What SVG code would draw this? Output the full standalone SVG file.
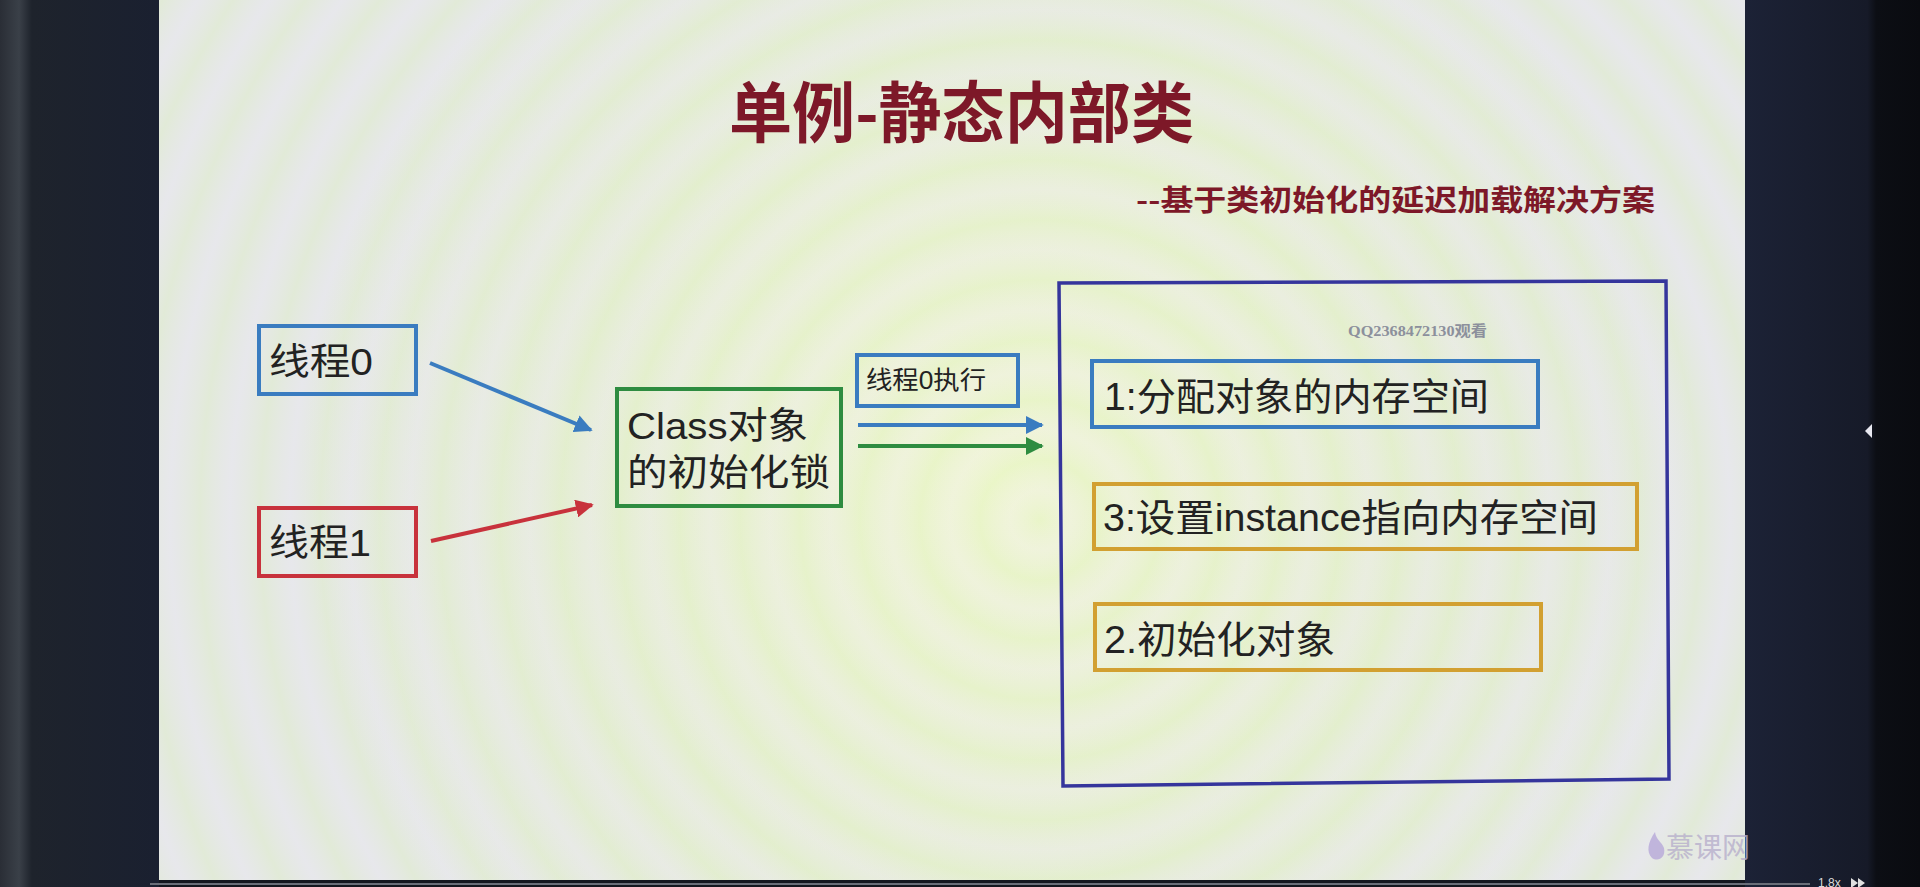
<svg xmlns="http://www.w3.org/2000/svg" width="1920" height="887" viewBox="0 0 1920 887">
<defs>
<style>
.cn{font-family:"Liberation Sans","Noto Sans CJK SC",sans-serif;fill:#222;}
.title{font-family:"Noto Sans CJK SC","Liberation Sans",sans-serif;font-weight:bold;fill:#7d1828;}
.box{fill:none;stroke-width:4;}
.blue{stroke:#3a7cc0;}
.red{stroke:#c8323c;}
.green{stroke:#2e8c40;}
.gold{stroke:#d2a031;}
.navy{stroke:#35359c;stroke-width:3.5;fill:none;}
.conn{stroke-width:4;fill:none;}
</style>
<marker id="ahBlue" viewBox="0 0 10 10" refX="9" refY="5" markerWidth="4.5" markerHeight="4.5" orient="auto" markerUnits="strokeWidth"><path d="M0,0 L10,5 L0,10 z" fill="#3a7cc0"/></marker>
<marker id="ahRed" viewBox="0 0 10 10" refX="9" refY="5" markerWidth="4.5" markerHeight="4.5" orient="auto" markerUnits="strokeWidth"><path d="M0,0 L10,5 L0,10 z" fill="#c8323c"/></marker>
<marker id="ahGreen" viewBox="0 0 10 10" refX="9" refY="5" markerWidth="4.5" markerHeight="4.5" orient="auto" markerUnits="strokeWidth"><path d="M0,0 L10,5 L0,10 z" fill="#2e8c40"/></marker>
<radialGradient id="moire" cx="1040" cy="520" r="60" gradientUnits="userSpaceOnUse" spreadMethod="repeat">
<stop offset="0" stop-color="#d6f0a8" stop-opacity="0.7"/>
<stop offset="0.5" stop-color="#ece6f2" stop-opacity="0.5"/>
<stop offset="1" stop-color="#d6f0a8" stop-opacity="0.7"/>
</radialGradient>
<radialGradient id="glow" cx="1000" cy="480" r="700" gradientUnits="userSpaceOnUse">
<stop offset="0" stop-color="#f2f8d4"/>
<stop offset="0.6" stop-color="#e8eedc"/>
<stop offset="1" stop-color="#e6e8ea"/>
</radialGradient>
<linearGradient id="leftDark" x1="0" y1="0" x2="1" y2="0">
<stop offset="0" stop-color="#2a2e36"/>
<stop offset="0.12" stop-color="#3a4048"/>
<stop offset="0.2" stop-color="#1e232c"/>
<stop offset="1" stop-color="#1a2030"/>
</linearGradient>
<linearGradient id="rightDark" x1="0" y1="0" x2="1" y2="0">
<stop offset="0" stop-color="#1c2236"/>
<stop offset="0.7" stop-color="#161a28"/>
<stop offset="0.75" stop-color="#0c0e14"/>
<stop offset="1" stop-color="#0a0b10"/>
</linearGradient>
</defs>

<!-- screen surroundings -->
<rect x="0" y="0" width="1920" height="887" fill="#14171f"/>
<rect x="0" y="0" width="159" height="887" fill="url(#leftDark)"/>
<rect x="1745" y="0" width="175" height="887" fill="url(#rightDark)"/>

<!-- slide -->
<g id="slide">
<rect x="159" y="0" width="1586" height="880" fill="url(#glow)"/>
<rect x="159" y="0" width="1586" height="880" fill="url(#moire)" opacity="0.4"/>
</g>

<!-- titles -->
<g id="title">
<text class="title" x="729" y="137" font-size="66" textLength="465" lengthAdjust="spacingAndGlyphs">单例-静态内部类</text>
</g>
<g id="subtitle">
<text class="title" x="1136" y="211" font-size="29" textLength="519" lengthAdjust="spacingAndGlyphs">--基于类初始化的延迟加载解决方案</text>
</g>

<!-- connectors -->
<g id="connectors">
<line class="conn blue" x1="430" y1="363" x2="591" y2="430" marker-end="url(#ahBlue)"/>
<line class="conn red" x1="431" y1="541" x2="592" y2="505" marker-end="url(#ahRed)"/>
<line class="conn blue" x1="858" y1="425" x2="1042" y2="425" marker-end="url(#ahBlue)"/>
<line class="conn green" x1="858" y1="446" x2="1042" y2="446" marker-end="url(#ahGreen)"/>
</g>

<g id="thread0">
<rect class="box blue" x="259" y="326" width="157" height="68"/>
<text class="cn" x="269" y="375" font-size="37" textLength="104" lengthAdjust="spacingAndGlyphs">线程0</text>
</g>

<g id="thread1">
<rect class="box red" x="259" y="508" width="157" height="68"/>
<text class="cn" x="269" y="556" font-size="37" textLength="102" lengthAdjust="spacingAndGlyphs">线程1</text>
</g>

<g id="classLock">
<rect class="box green" x="617" y="389" width="224" height="117"/>
<text class="cn" x="627" y="439" font-size="37" textLength="181" lengthAdjust="spacingAndGlyphs">Class对象</text>
<text class="cn" x="627" y="486" font-size="37" textLength="203" lengthAdjust="spacingAndGlyphs">的初始化锁</text>
</g>

<g id="thread0exec">
<rect class="box blue" x="857" y="355" width="161" height="51"/>
<text class="cn" x="866" y="389" font-size="25" textLength="120" lengthAdjust="spacingAndGlyphs">线程0执行</text>
</g>

<g id="container">
<path class="navy" d="M1059,283 L1666,281 L1669,779 L1063,786 Z"/>
<text x="1348" y="336" font-family="'Liberation Serif','Noto Sans CJK SC',serif" font-weight="bold" font-size="15" fill="#8c909c" textLength="139" lengthAdjust="spacingAndGlyphs">QQ2368472130观看</text>
</g>

<g id="step1">
<rect class="box blue" x="1092" y="361" width="446" height="66"/>
<text class="cn" x="1104" y="410" font-size="38" textLength="385" lengthAdjust="spacingAndGlyphs">1:分配对象的内存空间</text>
</g>

<g id="step3">
<rect class="box gold" x="1094" y="484" width="543" height="65"/>
<text class="cn" x="1103" y="531" font-size="38" textLength="495" lengthAdjust="spacingAndGlyphs">3:设置instance指向内存空间</text>
</g>

<g id="step2">
<rect class="box gold" x="1095" y="604" width="446" height="66"/>
<text class="cn" x="1104" y="653" font-size="38" textLength="231" lengthAdjust="spacingAndGlyphs">2.初始化对象</text>
</g>

<!-- player / watermark details -->
<g id="watermark">
<path d="M1655,832 C1648,842 1646,852 1652,858 C1658,862 1666,858 1664,848 C1662,842 1656,840 1655,832 Z" fill="#b6a8d8" opacity="0.8"/>
<text x="1666" y="858" font-family="'Noto Sans CJK SC',sans-serif" font-size="28" fill="#b8b0cc" opacity="0.8">慕课网</text>
</g>
<g id="player">
<polygon points="1872,424 1865,431 1872,438" fill="#e8e8f0"/>
<line x1="150" y1="884" x2="1810" y2="884" stroke="#6a6e78" stroke-width="2"/>
<text x="1818" y="887" font-family="'Liberation Sans',sans-serif" font-size="12" fill="#dcdcdc">1.8x</text>
<polygon points="1851,878 1858,883 1851,888" fill="#e0e0e0"/>
<polygon points="1858,878 1865,883 1858,888" fill="#e0e0e0"/>
</g>
</svg>
